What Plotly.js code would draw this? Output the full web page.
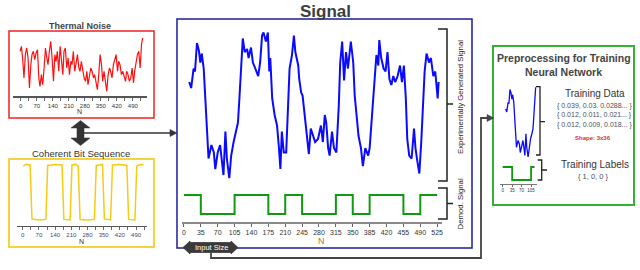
<!DOCTYPE html>
<html><head><meta charset="utf-8">
<script src="https://cdn.plot.ly/plotly-3.0.1.min.js"></script>
<style>html,body{margin:0;padding:0;background:#fff;}#c{width:640px;height:270px;}</style>
</head><body><div id="c"></div>
<script>
// ---- Experimental signal (blue) ----
const sigN = [11,15,20,23,27,31,34,37,41,44,48,51,57,62,65,70,75,79,82,86,89,94,98,103,108,112,115,119,122,126,131,134,139,143,148,154,158,162,165,170,174,177,179,183,188,193,197,200,203,207,212,216,219,224,228,231,237,239,243,246,250,253,257,259,263,268,272,278,284,288,292,295,299,302,307,311,316,321,324,328,332,336,340,346,351,354,358,362,367,371,376,382,385,389,392,396,399,403,405,409,414,418,422,426,430,434,438,443,448,452,456,460,463,467,472,477,480,484,488,492,496,499,503,508,512,517,521,526,528];
const sigV = [0.72,0.68,0.81,0.79,0.98,0.93,0.85,0.91,0.81,0.61,0.39,0.21,0.30,0.25,0.14,0.25,0.30,0.19,0.10,0.39,0.21,0.08,0.23,0.32,0.39,0.45,0.61,0.85,1.01,0.92,0.94,0.88,0.95,0.85,0.81,0.76,0.85,1.03,1.05,0.99,1.05,0.79,0.88,0.61,0.50,0.43,0.28,0.14,0.39,0.25,0.25,0.54,0.81,0.90,1.03,0.92,0.83,0.74,0.65,0.63,0.50,0.39,0.30,0.24,0.41,0.36,0.32,0.34,0.43,0.32,0.50,0.45,0.28,0.23,0.39,0.28,0.25,0.56,0.85,0.99,0.73,0.92,0.81,0.99,0.85,0.63,0.50,0.36,0.28,0.16,0.28,0.23,0.28,0.45,0.61,0.81,0.90,0.83,1.00,0.88,0.81,0.79,0.92,0.74,0.70,0.76,0.72,0.76,0.83,0.72,0.83,0.61,0.34,0.23,0.21,0.41,0.28,0.19,0.11,0.32,0.56,0.79,0.91,0.85,0.88,0.76,0.79,0.61,0.72];
// ---- Demodulated signal (green) ----
const demodN = [0,35,105,175,210,245,315,350,385,455,490,525];
const demodBit = [1,0,1,0,1,0,1,0,1,0,1,1];
const sigTicks = [0,35,70,105,140,175,210,245,280,315,350,385,420,455,490,525];
// ---- Thermal noise (red) ----
const noiseN = [-3,3,9,14,20,26,32,38,44,49,55,61,67,73,79,84,90,96,102,108,114,119,125,131,137,143,149,154,160,166,172,178,184,189,195,201,207,213,219,224,230,236,242,248,254,259,265,271,277,283,289,294,300,306,312,318,323,329,335,341,347,353,358,364,370,376,382,388,393,399,405,411,417,423,428,434,440,446,452,458,463,469,475,481,487,493,498,504,510,516,522,528,533];
const noiseV = [1.30,1.45,1.00,0.50,1.20,1.40,1.10,0.20,0.90,1.20,1.30,1.05,1.25,1.35,0.50,0.25,0.60,0.30,0.80,1.40,1.10,0.90,1.30,1.60,1.10,0.40,1.20,1.00,1.30,0.70,1.45,0.90,0.60,1.30,1.40,0.80,1.10,0.60,1.00,0.90,1.30,0.70,1.00,1.20,0.80,0.70,1.00,0.70,0.50,0.40,0.70,0.30,0.60,0.80,0.70,0.50,0.60,0.30,0.15,0.60,1.20,0.90,0.40,0.70,0.30,0.10,0.60,0.80,0.70,0.50,0.90,1.10,1.20,0.70,1.00,0.90,0.60,0.70,0.50,0.40,0.70,0.60,0.40,0.50,0.80,0.35,0.70,1.00,1.20,1.30,0.80,1.50,1.70];
// ---- Coherent bit sequence (yellow) ----
const bitN = [2,15,32,40,70,100,108,140,170,178,205,213,230,240,248,280,310,318,332,345,353,380,388,420,450,458,485,493,510,522];
const bitV = [0.98,1.01,1.0,0.02,0.0,0.01,0.99,1.01,1.0,0.01,0.0,1.0,1.01,0.98,0.01,0.0,0.01,0.99,1.0,1.01,0.02,0.0,1.0,1.01,0.99,0.01,0.0,0.98,1.01,1.0];
const smallTicks = [0,35,70,105,140,175,210,245,280,315,350,385,420,455,490,525];
const smallTickText = ['0','','70','','140','','210','','280','','350','','420','','490',''];
// ---- Preprocessing mini plot ----
const miniTicks = [0,35,70,105];
const miniDemodN = [0,35,105,118];
const miniDemodBit = [1,0,1,1];
const miniMax = 122;
// ---- Texts ----
const trainRows = ['{ 0.039, 0.03. 0.0288... }','{ 0.012, 0.011, 0.021... }','{ 0.012, 0.009, 0.018... }'];
const labelRow = '{ 1, 0, 0 }';

const W = 640, H = 270;
const X = p => p / W, Y = p => 1 - p / H;
const pth = s => s.replace(/(-?[\d.]+),(-?[\d.]+)/g, (m, a, b) => X(+a).toFixed(5) + ',' + Y(+b).toFixed(5));
const FONT = 'Liberation Sans, Arial, sans-serif';

const miniIdx = sigN.map((n, i) => i).filter(i => sigN[i] <= miniMax);

const traces = [
  {x: sigN, y: sigV, xaxis: 'x', yaxis: 'y', mode: 'lines', line: {color: '#0a0aff', width: 2}},
  {x: demodN, y: demodBit, xaxis: 'x', yaxis: 'y2', mode: 'lines', line: {color: '#109a10', width: 2, shape: 'hv'}},
  {x: noiseN, y: noiseV, xaxis: 'x2', yaxis: 'y3', mode: 'lines', line: {color: '#ff1010', width: 1.2}},
  {x: bitN, y: bitV, xaxis: 'x3', yaxis: 'y4', mode: 'lines', line: {color: '#f5cc10', width: 1.5}},
  {x: miniIdx.map(i => sigN[i]), y: miniIdx.map(i => sigV[i]), xaxis: 'x4', yaxis: 'y5', mode: 'lines', line: {color: '#0a0aff', width: 1.3}},
  {x: miniDemodN, y: miniDemodBit, xaxis: 'x4', yaxis: 'y6', mode: 'lines', line: {color: '#109a10', width: 1.8, shape: 'hv'}}
];

const xbase = {showgrid: false, zeroline: false, showline: true, linecolor: '#8a8a8a', ticks: 'outside', tickcolor: '#666', tickwidth: 1, fixedrange: true};
const yhide = {visible: false, showgrid: false, zeroline: false, fixedrange: true};

const layout = {
  width: W, height: H, margin: {l: 0, r: 0, t: 0, b: 0, pad: 0},
  paper_bgcolor: '#fff', plot_bgcolor: 'rgba(0,0,0,0)', showlegend: false,
  font: {family: FONT},
  xaxis: Object.assign({}, xbase, {domain: [X(182), X(442)], range: [-4, 535], anchor: 'y', tickvals: sigTicks, ticklen: 3, linewidth: 2, tickfont: {size: 7, color: '#333'}}),
  yaxis: Object.assign({}, yhide, {domain: [Y(222), Y(28)], range: [-0.213, 1.08], anchor: 'x'}),
  yaxis2: Object.assign({}, yhide, {overlaying: 'y', range: [-0.421, 9.79], anchor: 'x'}),
  xaxis2: Object.assign({}, xbase, {domain: [X(13), X(147)], range: [-34, 552], anchor: 'y3', tickvals: smallTicks, ticktext: smallTickText, ticklen: 3, linewidth: 1.5, linecolor: '#555', tickfont: {size: 6, color: '#333'}}),
  yaxis3: Object.assign({}, yhide, {domain: [Y(96.3), Y(33)], range: [-0.05, 1.85], anchor: 'x2'}),
  xaxis3: Object.assign({}, xbase, {domain: [X(16.7), X(146.7)], range: [-26, 536], anchor: 'y4', tickvals: smallTicks, ticktext: smallTickText, ticklen: 3, linewidth: 1.5, linecolor: '#555', tickfont: {size: 6, color: '#3a4a7a'}}),
  yaxis4: Object.assign({}, yhide, {domain: [Y(225.7), Y(160)], range: [-0.104, 1.09], anchor: 'x3'}),
  xaxis4: Object.assign({}, xbase, {domain: [X(500), X(537)], range: [-10, 127], anchor: 'y5', tickvals: miniTicks, ticklen: 2, linewidth: 1, linecolor: '#777', tickfont: {size: 4.5, color: '#333'}}),
  yaxis5: Object.assign({}, yhide, {domain: [Y(184), Y(84)], range: [-0.28, 1.053], anchor: 'x4'}),
  yaxis6: Object.assign({}, yhide, {overlaying: 'y5', range: [-0.308, 7.38], anchor: 'x4'}),
  shapes: [],
  annotations: []
};

const S = layout.shapes;
const rect = (x0, y0, x1, y1, color, w) => S.push({type: 'rect', xref: 'paper', yref: 'paper', x0: X(x0), x1: X(x1), y0: Y(y1), y1: Y(y0), line: {color: color, width: w}, layer: 'below'});
const path = (p, color, w, fill) => S.push({type: 'path', xref: 'paper', yref: 'paper', path: pth(p), line: {color: color, width: w}, fillcolor: fill || 'rgba(0,0,0,0)', layer: 'above'});

rect(9, 31, 154, 118, '#ee2222', 1.5);
rect(9, 159, 154, 247, '#f2c400', 1.5);
rect(177, 19, 472, 248, '#1c1c9c', 1.5);
rect(493, 46, 634, 205, '#36b036', 2);
// thick double arrow between the two left panels
path('M 80.5,120.5 L 90,128 L 84,128 L 84,138 L 90,138 L 80.5,145.5 L 71,138 L 77,138 L 77,128 L 71,128 Z', '#333', 0.5, '#333');
// arrow to signal panel
path('M 84,133 L 171,133', '#333', 1.5);
path('M 170,129.5 L 177,133 L 170,136.5 Z', '#333', 0.5, '#333');
// input size arrow
path('M 183,247.5 L 190,241 L 190,242.5 L 231,242.5 L 231,241 L 238,247.5 L 231,254 L 231,252.5 L 190,252.5 L 190,254 Z', '#3a3a3a', 0.8, '#3a3a3a');
// connector to preprocessing panel
path('M 211,253 L 211,258 L 481,258 L 481,118 L 488,118', '#444', 1.8);
path('M 487,114.5 L 494,118 L 487,121.5 Z', '#444', 0.5, '#444');
// brackets
path('M 438,29 L 447,29 L 447,181 L 438,181 M 447,104 L 453,104', '#222', 1.5);
path('M 438,188 L 447,188 L 447,219 L 438,219 M 447,203.5 L 453,203.5', '#222', 1.5);
path('M 536,86.7 L 540,86.7 L 540,155 L 536,155 M 540,121.7 L 545,121.7', '#222', 1.3);
path('M 537.7,160 L 541.7,160 L 541.7,180 L 537.7,180 M 541.7,170 L 547,170', '#222', 1.3);

const A = layout.annotations;
const ann = (t, x, y, size, color, extra) => A.push(Object.assign({text: t, x: X(x), y: Y(y), xref: 'paper', yref: 'paper', showarrow: false, xanchor: 'center', yanchor: 'middle', font: {size: size, color: color, family: FONT}, borderpad: 0}, extra || {}));

ann('<b>Signal</b>', 325, 11, 17, '#3d3d3d');
ann('<b>Thermal Noise</b>', 80, 25.5, 9, '#444');
ann('Coherent Bit Sequence', 81, 153, 9.5, '#333');
ann('N', 79, 111, 7, '#333');
ann('N', 81, 241, 7, '#333');
ann('N', 321, 241, 9, '#c0703a');
ann('Experimentally Generated Signal', 460, 97, 7.8, '#222', {textangle: -90});
ann('Demod. Signal', 460, 204.5, 7.8, '#222', {textangle: -90});
ann('Input Size', 211, 247.5, 7.5, '#fff');
ann('<b>Preprocessing for Training</b>', 563.5, 57.5, 10.5, '#444');
ann('<b>Neural Network</b>', 563.5, 71.5, 10.5, '#444');
ann('Training Data', 594.5, 93.5, 10, '#333');
ann(trainRows[0], 594.5, 105.5, 7, '#4a5060');
ann(trainRows[1], 594.5, 115, 7, '#4a5060');
ann(trainRows[2], 594.5, 124.5, 7, '#4a5060');
ann('<b>Shape: 3x36</b>', 593, 138.3, 6, '#e03030');
ann('Training Labels', 594.5, 164, 10, '#333');
ann(labelRow, 593, 176.5, 7.5, '#4a5060');

Plotly.newPlot('c', traces, layout, {displayModeBar: false, staticPlot: true});
</script></body></html>
